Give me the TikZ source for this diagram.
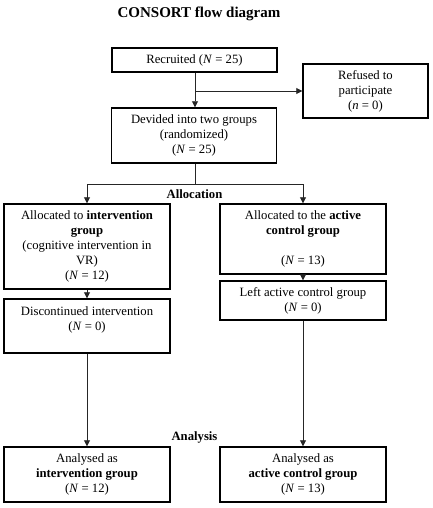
\documentclass[tikz,border=0pt]{standalone}
\usepackage{fontspec}
\setmainfont{Liberation Serif}
\usetikzlibrary{arrows.meta}
\begin{document}
\begin{tikzpicture}[x=1pt,y=-1pt,
  box/.style={draw=black, line width=1.4pt, align=center, inner sep=0pt,
    font=\fontsize{12.7}{15}\selectfont},
  conn/.style={draw=black!85, line width=0.8pt},
  arr/.style={conn, -{Triangle[length=6pt,width=6pt]}},
  lbl/.style={font=\fontsize{12.7}{15}\selectfont\bfseries},
  ttl/.style={font=\fontsize{15}{18}\selectfont\bfseries}]
\useasboundingbox (0,0) rectangle (432,508);
\node[ttl] (title) at (199,14) {CONSORT flow diagram};
\node[box, minimum width=165pt, minimum height=24pt] (rec) at (194.5,60) {Recruited (\textit{N} = 25)};
\node[box, minimum width=125pt, minimum height=54pt] (ref) at (365.5,91) {Refused to\\participate\\(\textit{n} = 0)};
\node[box, minimum width=165pt, minimum height=55pt] (dev) at (194,135.5) {Devided into two groups\\(randomized)\\(\textit{N} = 25)};
\node[box, minimum width=166pt, minimum height=85pt] (la) at (87,246.5) {Allocated to \textbf{intervention}\\\textbf{group}\\(cognitive intervention in\\VR)\\(\textit{N} = 12)};
\node[box, minimum width=166pt, minimum height=70pt] (ra) at (303,239) {Allocated to the \textbf{active}\\\textbf{control group}\\\mbox{}\\(\textit{N} = 13)};
\node[box, minimum width=166pt, minimum height=54pt] (disc) at (87,326) {Discontinued intervention\\(\textit{N} = 0)\\\mbox{}};
\node[box, minimum width=166pt, minimum height=39pt] (lac) at (303,300.5) {Left active control group\\(\textit{N} = 0)};
\node[box, minimum width=166pt, minimum height=55pt] (bl) at (87,474.5) {Analysed as\\\textbf{intervention group}\\(\textit{N} = 12)};
\node[box, minimum width=166pt, minimum height=55pt] (br) at (303,474.5) {Analysed as\\\textbf{active control group}\\(\textit{N} = 13)};
\node[lbl] (alloc) at (194.5,194) {Allocation};
\node[lbl] (anal) at (194.5,437) {Analysis};
\coordinate (split) at (195,184);
\draw[arr] (195,0 |- rec.south) -- (195,0 |- dev.north);
\draw[arr] (195,0 |- ref.west) -- (ref.west);
\draw[conn] (split |- dev.south) -- (split);
\draw[arr] (split) -| (la.north);
\draw[arr] (split) -| (ra.north);
\draw[arr] (la.south) -- (disc.north);
\draw[arr] (ra.south) -- (lac.north);
\draw[arr] (disc.south) -- (bl.north);
\draw[arr] (lac.south) -- (br.north);
\end{tikzpicture}
\end{document}
